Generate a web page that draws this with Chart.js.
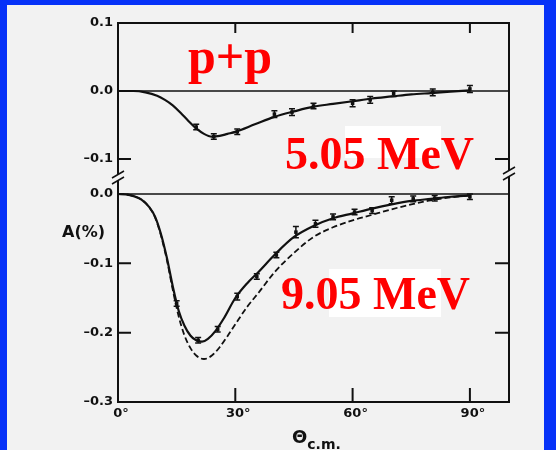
<!DOCTYPE html>
<html>
<head>
<meta charset="utf-8">
<script src="https://cdn.jsdelivr.net/npm/chart.js@4"></script>
<style>
  body { margin: 0; }
  #page { position: relative; width: 556px; height: 450px; background: #0632f8; overflow: hidden; }
  #paper { position: absolute; left: 7px; top: 5px; width: 537px; height: 445px; background: #f2f2f2; }
  canvas { position: absolute; left: 0; }
  .lbl { position: absolute; white-space: nowrap; }
  .red { color: #ff0000; font-family: "Liberation Serif", serif; font-weight: bold; }
  .box { position: absolute; background: #ffffff; }
  .axis { color: #111; font-family: "DejaVu Sans", sans-serif; font-weight: bold; }
</style>
</head>
<body>
<div id="page">
  <div id="paper"></div>
  <div class="box" style="left:345px;top:126px;width:96px;height:32px"></div>
  <div class="box" style="left:329px;top:269px;width:112px;height:48px"></div>
  <canvas id="top" width="556" height="190" style="top:0"></canvas>
  <canvas id="bottom" width="556" height="290" style="top:160px"></canvas>
  <div class="lbl red" style="left:188px;top:31px;font-size:50px;line-height:50px">p+p</div>
  <div class="lbl red" style="left:285px;top:131px;font-size:46px;line-height:46px">5.05 MeV</div>
  <div class="lbl red" style="left:281px;top:271px;font-size:46px;line-height:46px">9.05 MeV</div>
  <div class="lbl axis" style="left:62px;top:224px;font-size:16px;line-height:16px">A(%)</div>
  <div class="lbl axis" style="left:292px;top:428px;font-size:18px;line-height:18px">&Theta;<span style="font-size:14px;position:relative;top:6px">c.m.</span></div>
</div>
<script>
// 5.05 MeV panel
const topCurveX = [0, 4, 7, 10, 12, 14, 16, 18, 20, 22, 24, 26, 28, 30, 35, 40, 45, 50, 55, 60, 65, 70, 75, 80, 85, 90];
const topCurveY = [0, 0, -0.002, -0.007, -0.013, -0.021, -0.032, -0.044, -0.055, -0.063, -0.067, -0.066, -0.063, -0.060, -0.049, -0.038, -0.030, -0.023, -0.019, -0.015, -0.011, -0.008, -0.005, -0.003, -0.001, 0.001];
const topAngles = [20, 24.5, 30.5, 40, 44.5, 50, 60, 64.5, 70.5, 80.5, 90];
const topValues = [-0.053, -0.067, -0.060, -0.034, -0.031, -0.022, -0.018, -0.013, -0.004, -0.002, 0.003];
const topErrors = [0.004, 0.004, 0.004, 0.005, 0.005, 0.004, 0.005, 0.005, 0.004, 0.005, 0.005];

// 9.05 MeV panel
const botCurveX = [0, 2, 4, 6, 8, 9.5, 11, 12.5, 14, 15.5, 17, 18.5, 20, 21.5, 23, 25, 27, 30, 33, 36, 40, 45, 50, 55, 60, 65, 70, 75, 80, 85, 90];
const botSolidY = [0, -0.0005, -0.003, -0.008, -0.019, -0.033, -0.058, -0.092, -0.133, -0.168, -0.190, -0.204, -0.211, -0.213, -0.209, -0.197, -0.180, -0.150, -0.129, -0.112, -0.088, -0.062, -0.046, -0.035, -0.028, -0.021, -0.015, -0.010, -0.007, -0.004, -0.002];
const dashCurveX = [0, 2, 4, 6, 8, 9.5, 11, 12.5, 14, 15.5, 17, 18.5, 20, 22, 24, 26, 28, 30, 33, 36, 40, 45, 50, 55, 60, 65, 70, 75, 80, 85, 90];
const botDashY = [0, -0.0005, -0.003, -0.008, -0.019, -0.034, -0.060, -0.095, -0.138, -0.176, -0.204, -0.222, -0.233, -0.238, -0.233, -0.221, -0.205, -0.188, -0.163, -0.142, -0.113, -0.085, -0.062, -0.048, -0.038, -0.030, -0.022, -0.015, -0.009, -0.005, -0.002];
const botAngles = [15, 20.5, 25.5, 30.5, 35.5, 40.5, 45.5, 50.5, 55, 60.5, 65, 70, 75.5, 81, 90];
const botValues = [-0.158, -0.211, -0.195, -0.148, -0.119, -0.088, -0.055, -0.043, -0.033, -0.026, -0.024, -0.009, -0.007, -0.006, -0.004];
const botErrors = [0.004, 0.004, 0.004, 0.005, 0.004, 0.004, 0.008, 0.005, 0.004, 0.004, 0.004, 0.005, 0.004, 0.004, 0.004];

const xTicks = [0, 30, 60, 90];
const topYTicks = [0.1, 0, -0.1];
const botYTicks = [0, -0.1, -0.2, -0.3];

const ink = '#111';
const tickFont = { family: 'DejaVu Sans', weight: 'bold', size: 13 };

function pts(xs, ys) {
    return xs.map((x, i) => ({ x: x, y: ys[i] }));
}

function fmtY(v) {
    return v.toFixed(1).replace('-', '\u2013');
}

// frame, inner ticks, zero line, axis breaks and error bars
const framePlugin = {
    id: 'frame',
    afterDatasetsDraw(chart, args, opts) {
        const ctx = chart.ctx;
        const a = chart.chartArea;
        const x = chart.scales.x, y = chart.scales.y;
        ctx.save();
        ctx.strokeStyle = ink;
        ctx.lineWidth = 2;
        ctx.beginPath();
        if (opts.side === 'top') {
            ctx.moveTo(a.left, a.bottom); ctx.lineTo(a.left, a.top);
            ctx.lineTo(a.right, a.top); ctx.lineTo(a.right, a.bottom - 4);
        } else {
            ctx.moveTo(a.left, a.top); ctx.lineTo(a.left, a.bottom);
            ctx.lineTo(a.right, a.bottom); ctx.lineTo(a.right, a.top - 4);
        }
        ctx.stroke();

        // x ticks pointing inward
        xTicks.forEach(v => {
            if (v === 0) return;
            const px = x.getPixelForValue(v);
            ctx.beginPath();
            if (opts.side === 'top') { ctx.moveTo(px, a.top); ctx.lineTo(px, a.top + 10); }
            else { ctx.moveTo(px, a.bottom); ctx.lineTo(px, a.bottom - 14); }
            ctx.stroke();
        });
        // y ticks both sides
        opts.yTicks.forEach(v => {
            if (v === 0 || v === y.max || v === y.min) return;
            const py = y.getPixelForValue(v);
            ctx.beginPath();
            ctx.moveTo(a.left, py); ctx.lineTo(a.left + 13, py);
            ctx.moveTo(a.right, py); ctx.lineTo(a.right - 14, py);
            ctx.stroke();
        });
        // zero line
        ctx.lineWidth = 1.5;
        const y0 = y.getPixelForValue(0);
        ctx.beginPath();
        ctx.moveTo(a.left, y0); ctx.lineTo(a.right, y0);
        ctx.stroke();

        // axis break marks
        if (opts.side === 'top') {
            ctx.lineWidth = 1.5;
            [a.left, a.right].forEach((bx, i) => {
                const by = a.bottom + (i === 0 ? 3 : -1);
                ctx.beginPath();
                ctx.moveTo(bx - 6, by + 1); ctx.lineTo(bx + 6, by - 6);
                ctx.moveTo(bx - 6, by + 7); ctx.lineTo(bx + 6, by);
                ctx.stroke();
            });
        }

        // error bars
        ctx.lineWidth = 1.5;
        opts.errAngles.forEach((t, i) => {
            const px = x.getPixelForValue(t);
            const p1 = y.getPixelForValue(opts.errValues[i] + opts.errors[i]);
            const p2 = y.getPixelForValue(opts.errValues[i] - opts.errors[i]);
            ctx.beginPath();
            ctx.moveTo(px, p1); ctx.lineTo(px, p2);
            ctx.moveTo(px - 3, p1); ctx.lineTo(px + 3, p1);
            ctx.moveTo(px - 3, p2); ctx.lineTo(px + 3, p2);
            ctx.stroke();
        });
        ctx.restore();
    }
};

function yScale(min, max, ticks) {
    return {
        min: min, max: max,
        afterFit: s => { s.width = 118; },
        afterBuildTicks: s => { s.ticks = ticks.map(v => ({ value: v })); },
        grid: { display: false, drawTicks: false },
        border: { display: false },
        ticks: { padding: 5, color: ink, font: tickFont, callback: fmtY }
    };
}

const curveStyle = { borderColor: ink, borderWidth: 2.2, pointRadius: 0, cubicInterpolationMode: 'monotone', fill: false };
const dotStyle = { showLine: false, pointStyle: 'rect', pointRadius: 2.5, backgroundColor: ink, borderColor: ink, borderWidth: 0 };

new Chart(document.getElementById('top'), {
    type: 'line',
    data: {
        datasets: [
            Object.assign({ data: pts(topAngles, topValues) }, dotStyle),
            Object.assign({ data: pts(topCurveX, topCurveY) }, curveStyle)
        ]
    },
    options: {
        responsive: false,
        animation: false,
        devicePixelRatio: 1,
        layout: { padding: { top: 23, right: 47, bottom: 16, left: 0 } },
        plugins: {
            legend: { display: false },
            tooltip: { enabled: false },
            frame: { side: 'top', yTicks: topYTicks, errAngles: topAngles, errValues: topValues, errors: topErrors }
        },
        scales: {
            x: { type: 'linear', min: 0, max: 100, display: false },
            y: yScale(-0.122, 0.1, topYTicks)
        }
    },
    plugins: [framePlugin]
});

new Chart(document.getElementById('bottom'), {
    type: 'line',
    data: {
        datasets: [
            Object.assign({ data: pts(botAngles, botValues) }, dotStyle),
            Object.assign({ data: pts(botCurveX, botSolidY) }, curveStyle),
            Object.assign({ data: pts(dashCurveX, botDashY) }, curveStyle, { borderWidth: 1.8, borderDash: [6, 3] })
        ]
    },
    options: {
        responsive: false,
        animation: false,
        devicePixelRatio: 1,
        layout: { padding: { top: 20, right: 47, bottom: 0, left: 0 } },
        plugins: {
            legend: { display: false },
            tooltip: { enabled: false },
            frame: { side: 'bottom', yTicks: botYTicks, errAngles: botAngles, errValues: botValues, errors: botErrors }
        },
        scales: {
            x: {
                type: 'linear', min: 0, max: 100,
                afterFit: s => { s.height = 48; },
                afterBuildTicks: s => { s.ticks = xTicks.map(v => ({ value: v })); },
                grid: { display: false, drawTicks: false },
                border: { display: false },
                ticks: { padding: 4, labelOffset: 3, maxRotation: 0, autoSkip: false, color: ink, font: tickFont, callback: v => v + '\u00b0' }
            },
            y: yScale(-0.3, 0.0202, botYTicks)
        }
    },
    plugins: [framePlugin]
});
</script>
</body>
</html>
